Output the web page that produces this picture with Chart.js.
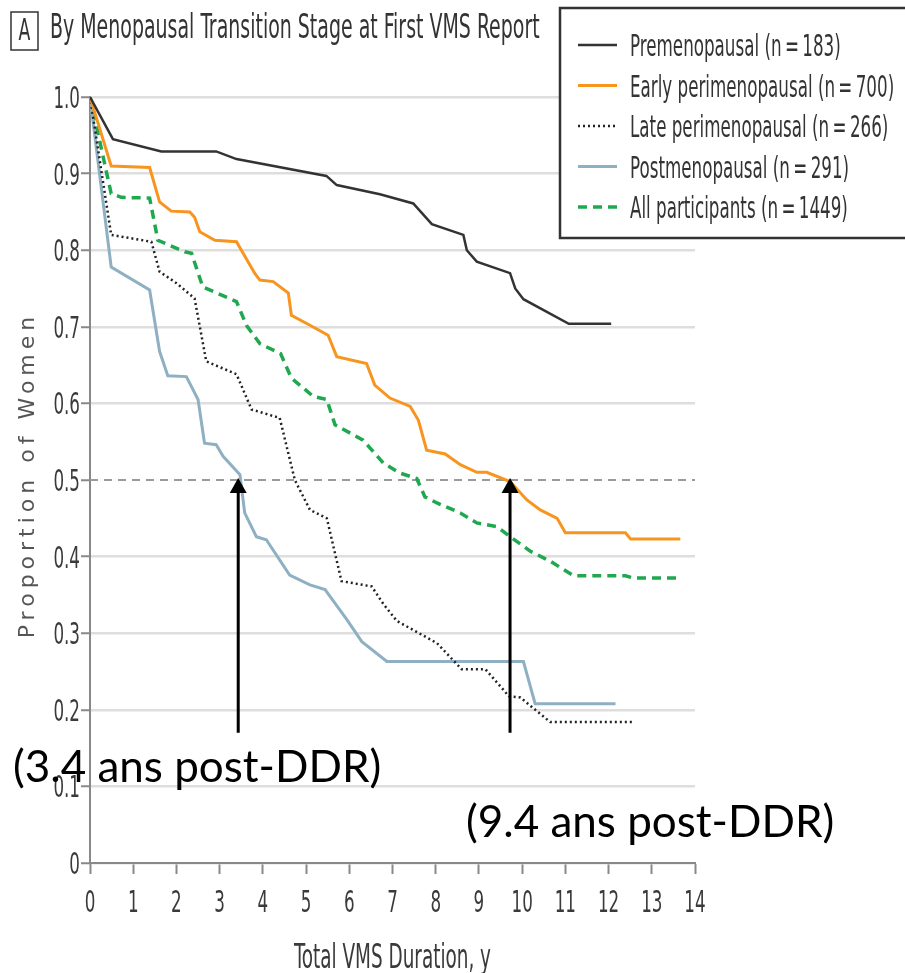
<!DOCTYPE html>
<html>
<head>
<meta charset="utf-8">
<script src="https://cdn.jsdelivr.net/npm/chart.js@4.4.1/dist/chart.umd.min.js"></script>
<style>
  html, body { margin: 0; padding: 0; background: #fff; }
  #wrap { width: 905px; height: 973px; }
</style>
</head>
<body>
<div id="wrap"><canvas id="vmsChart" width="905" height="973"></canvas></div>
<script>
// DATA
let stageNames = [
    "Premenopausal (n\u2009=\u2009183)",
    "Early perimenopausal (n\u2009=\u2009700)",
    "Late perimenopausal (n\u2009=\u2009266)",
    "Postmenopausal (n\u2009=\u2009291)",
    "All participants (n\u2009=\u20091449)"
];

let preX = [0, 0.53, 1.65, 2.92, 3.39, 5.47, 5.71, 6.71, 7.48, 7.91, 8.64, 8.72, 8.95, 9.72, 9.84, 10.03, 11.08, 12.06];
let preY = [1.0, 0.945, 0.929, 0.929, 0.919, 0.897, 0.885, 0.873, 0.861, 0.834, 0.820, 0.800, 0.785, 0.770, 0.750, 0.736, 0.704, 0.704];

let earlyX = [0, 0.49, 1.38, 1.61, 1.88, 2.31, 2.42, 2.54, 2.89, 3.39, 3.81, 3.93, 4.24, 4.59, 4.66, 5.09, 5.51, 5.71, 6.40, 6.59, 6.94, 7.41, 7.60, 7.79, 8.22, 8.57, 8.95, 9.18, 9.72, 10.11, 10.42, 10.81, 11.0, 12.39, 12.51, 13.66];
let earlyY = [1.0, 0.910, 0.908, 0.863, 0.851, 0.850, 0.843, 0.824, 0.813, 0.811, 0.770, 0.761, 0.759, 0.744, 0.715, 0.702, 0.689, 0.661, 0.652, 0.624, 0.607, 0.596, 0.578, 0.539, 0.534, 0.520, 0.510, 0.510, 0.498, 0.474, 0.461, 0.450, 0.431, 0.431, 0.423, 0.423];

let lateX = [0, 0.49, 1.42, 1.61, 2.0, 2.42, 2.69, 3.39, 3.74, 4.39, 4.74, 5.09, 5.48, 5.82, 6.52, 6.79, 7.10, 8.03, 8.60, 9.15, 9.69, 9.96, 10.65, 12.58];
let lateY = [1.0, 0.820, 0.811, 0.772, 0.757, 0.737, 0.655, 0.638, 0.592, 0.581, 0.500, 0.461, 0.450, 0.368, 0.361, 0.338, 0.316, 0.287, 0.253, 0.253, 0.218, 0.216, 0.184, 0.184];

let postX = [0, 0.49, 1.38, 1.61, 1.80, 2.23, 2.50, 2.65, 2.92, 3.08, 3.47, 3.58, 3.85, 4.08, 4.62, 5.09, 5.44, 5.94, 6.29, 6.87, 10.03, 10.30, 12.16];
let postY = [1.0, 0.778, 0.748, 0.668, 0.636, 0.635, 0.605, 0.548, 0.546, 0.531, 0.507, 0.457, 0.426, 0.422, 0.376, 0.363, 0.357, 0.318, 0.289, 0.263, 0.263, 0.208, 0.208];

let allX = [0, 0.49, 0.72, 1.38, 1.57, 2.19, 2.35, 2.61, 3.39, 3.62, 3.93, 4.41, 4.66, 5.17, 5.48, 5.67, 6.32, 6.79, 7.17, 7.56, 7.75, 8.03, 8.57, 8.95, 9.42, 9.72, 10.19, 10.65, 11.19, 12.39, 12.58, 13.62];
let allY = [1.0, 0.874, 0.869, 0.868, 0.813, 0.798, 0.796, 0.752, 0.733, 0.702, 0.678, 0.665, 0.633, 0.609, 0.605, 0.572, 0.552, 0.522, 0.509, 0.502, 0.478, 0.470, 0.457, 0.444, 0.439, 0.426, 0.407, 0.394, 0.375, 0.375, 0.372, 0.372];

let xTickValues = [0, 1, 2, 3, 4, 5, 6, 7, 8, 9, 10, 11, 12, 13, 14];
let xTickLabels = ["0", "1", "2", "3", "4", "5", "6", "7", "8", "9", "10", "11", "12", "13", "14"];
let yTickValues = [0, 0.1, 0.2, 0.3, 0.4, 0.5, 0.6, 0.7, 0.8, 0.9, 1.0];
let yTickLabels = ["0", "0.1", "0.2", "0.3", "0.4", "0.5", "0.6", "0.7", "0.8", "0.9", "1.0"];

let medianLevel = 0.5;
let arrowX = [3.43, 9.72];
let arrowBase = 0.17;
let arrowTexts = ["(3.4 ans post-DDR)", "(9.4 ans post-DDR)"];

let panelLetter = "A";
let panelTitle = "By Menopausal Transition Stage at First VMS Report";
let xTitle = "Total VMS Duration, y";
let yTitle = "Proportion of Women";

// HELPERS
// no true condensed face is installed, so the condensed one is squeezed a bit more
const narrow = "'Liberation Sans Narrow', 'DejaVu Sans Condensed', sans-serif";
const squeeze = 0.62;

function points(xs, ys) {
    return xs.map((x, i) => ({x: x, y: ys[i]}));
}

function squeezedText(ctx, text, x, y, size, align) {
    ctx.save();
    ctx.font = size + "px " + narrow;
    ctx.textAlign = align || "left";
    ctx.textBaseline = "alphabetic";
    ctx.translate(x, y);
    ctx.scale(squeeze, 1);
    ctx.fillText(text, 0, 0);
    ctx.restore();
}

function line(name, xs, ys, color, width, dash) {
    return {
        label: name,
        data: points(xs, ys),
        borderColor: color,
        borderWidth: width,
        borderDash: dash,
        inLegend: true
    };
}

// EXTRA DRAWING (tick labels, arrows, legend box, titles, notes)
const extras = {
    id: "extras",
    afterDatasetsDraw(chart) {
        let ctx = chart.ctx, xs = chart.scales.x, ys = chart.scales.y;
        ctx.save();
        ctx.strokeStyle = "#000";
        ctx.fillStyle = "#000";
        ctx.lineWidth = 3;
        arrowX.forEach(v => {
            let px = xs.getPixelForValue(v);
            let tip = ys.getPixelForValue(medianLevel) - 2;
            let base = ys.getPixelForValue(arrowBase);
            ctx.beginPath();
            ctx.moveTo(px, base);
            ctx.lineTo(px, tip + 12);
            ctx.stroke();
            ctx.beginPath();
            ctx.moveTo(px, tip);
            ctx.lineTo(px - 8.5, tip + 15);
            ctx.lineTo(px + 8.5, tip + 15);
            ctx.closePath();
            ctx.fill();
        });
        ctx.restore();
    },
    afterDraw(chart) {
        let ctx = chart.ctx, xs = chart.scales.x, ys = chart.scales.y;
        ctx.save();

        // tick labels
        ctx.fillStyle = "#3a3a3a";
        xTickValues.forEach((v, i) => {
            squeezedText(ctx, xTickLabels[i], xs.getPixelForValue(v), 912, 30, "center");
        });
        yTickValues.forEach((v, i) => {
            squeezedText(ctx, yTickLabels[i], 80, ys.getPixelForValue(v) + 11, 30, "right");
        });

        // axis titles
        squeezedText(ctx, xTitle, (chart.chartArea.left + chart.chartArea.right) / 2, 968, 33, "center");

        ctx.save();
        ctx.translate(28, 475);
        ctx.rotate(-Math.PI / 2);
        ctx.font = "22px 'DejaVu Sans'";
        ctx.letterSpacing = "5px";
        ctx.textAlign = "center";
        ctx.textBaseline = "middle";
        ctx.fillStyle = "#555";
        ctx.fillText(yTitle, 0, 0);
        ctx.restore();

        // panel title
        ctx.strokeStyle = "#333";
        ctx.lineWidth = 1.5;
        ctx.strokeRect(11, 12, 27, 38);
        ctx.fillStyle = "#333";
        squeezedText(ctx, panelLetter, 24.5, 40, 31, "center");
        squeezedText(ctx, panelTitle, 50, 38, 34);

        // legend
        ctx.fillStyle = "#fff";
        ctx.fillRect(560, 8, 360, 230);
        ctx.strokeStyle = "#333";
        ctx.lineWidth = 2.5;
        ctx.strokeRect(560, 8, 360, 230);
        let row = 0;
        chart.data.datasets.forEach(ds => {
            if (!ds.inLegend) return;
            let y = 45 + row * 40.5;
            ctx.save();
            ctx.strokeStyle = ds.borderColor;
            ctx.lineWidth = ds.borderWidth;
            ctx.setLineDash(ds.borderDash || []);
            ctx.beginPath();
            ctx.moveTo(578, y);
            ctx.lineTo(617, y);
            ctx.stroke();
            ctx.restore();
            ctx.fillStyle = "#333";
            squeezedText(ctx, ds.label, 630, y + 11, 30);
            row++;
        });

        // notes under the arrows
        ctx.fillStyle = "#000";
        ctx.font = "44px Lato";
        ctx.textAlign = "left";
        ctx.textBaseline = "alphabetic";
        ctx.fillText(arrowTexts[0], 13, 782);
        ctx.fillText(arrowTexts[1], 466, 837);

        ctx.restore();
    }
};

// CHART
Chart.defaults.font.family = narrow;

let datasets = [
    line(stageNames[0], preX, preY, "#333333", 2.5, []),
    line(stageNames[1], earlyX, earlyY, "#f7951f", 3, []),
    line(stageNames[2], lateX, lateY, "#222222", 2.5, [2, 3]),
    line(stageNames[3], postX, postY, "#8fb0c2", 3, []),
    line(stageNames[4], allX, allY, "#1fa84f", 3.5, [9, 6]),
    {
        label: "median",
        data: points([xTickValues[0], xTickValues[xTickValues.length - 1]], [medianLevel, medianLevel]),
        borderColor: "#9a9a9a",
        borderWidth: 2,
        borderDash: [8, 6]
    }
];

new Chart(document.getElementById("vmsChart"), {
    type: "line",
    data: { datasets: datasets },
    options: {
        responsive: false,
        devicePixelRatio: 1,
        animation: false,
        layout: { padding: { left: 0, right: 210, top: 97, bottom: 0 } },
        elements: { point: { radius: 0 }, line: { tension: 0 } },
        plugins: { legend: { display: false }, tooltip: { enabled: false } },
        scales: {
            x: {
                type: "linear",
                min: 0,
                max: 14,
                afterBuildTicks: s => { s.ticks = xTickValues.map(v => ({value: v})); },
                ticks: { display: false },
                grid: { drawOnChartArea: false, tickLength: 11, tickColor: "#888", tickWidth: 2 },
                border: { color: "#888", width: 2 },
                afterFit: s => { s.height = 110; }
            },
            y: {
                type: "linear",
                min: 0,
                max: 1,
                afterBuildTicks: s => { s.ticks = yTickValues.map(v => ({value: v})); },
                ticks: { display: false },
                grid: {
                    color: c => (c.tick && Math.abs(c.tick.value - medianLevel) < 1e-6) ? "rgba(0,0,0,0)" : "#dedede",
                    lineWidth: 2.5,
                    tickLength: 9,
                    tickColor: "#888",
                    tickWidth: 2
                },
                border: { color: "#888", width: 2 },
                afterFit: s => { s.width = 90; }
            }
        }
    },
    plugins: [extras]
});
</script>
</body>
</html>
